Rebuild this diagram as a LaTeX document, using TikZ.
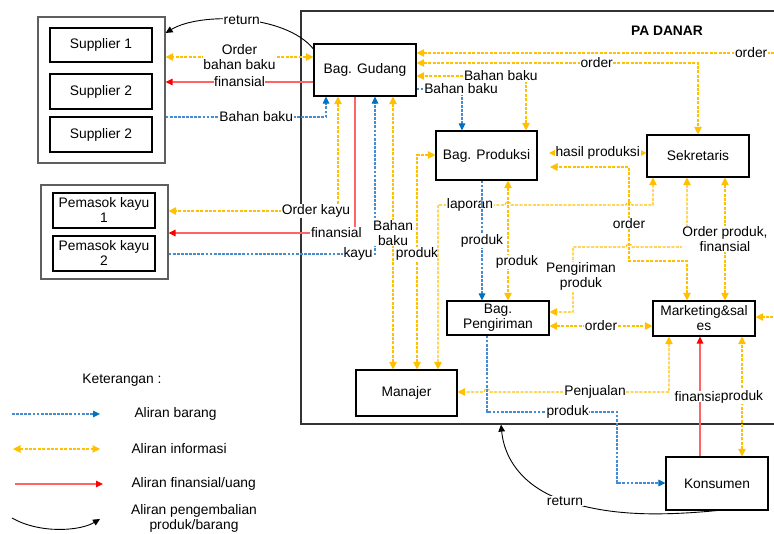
\documentclass[tikz,border=0pt]{standalone}
\usepackage{fontspec}
\setmainfont{Liberation Sans}
\usetikzlibrary{arrows.meta}
\definecolor{goodsline}{RGB}{70,140,210}
\definecolor{goodshead}{RGB}{0,112,192}
\definecolor{infoline}{RGB}{255,192,0}
\definecolor{moneyline}{RGB}{255,100,100}
\definecolor{moneyhead}{RGB}{255,0,0}
\definecolor{grpline}{RGB}{95,95,95}
\newcommand\diafont{\fontsize{13.8}{15}\selectfont}
\tikzset{
  unit/.style={draw, line width=1.1pt, minimum width=102pt, minimum height=34pt, align=center, inner sep=1pt},
  group/.style={draw=grpline, line width=1.2pt, minimum width=127pt},
  lbl/.style={fill=white, inner sep=0.6pt, align=center},
  goods/.style={draw=goodsline, line width=1.05pt, dash pattern=on 2.8pt off 1.3pt},
  info/.style={draw=infoline, line width=1.05pt, dash pattern=on 3pt off 1.4pt},
  money/.style={draw=moneyline, line width=1.3pt},
  back/.style={draw=black, line width=0.9pt},
  gtip/.tip={Triangle[length=7pt,width=6.5pt,color=goodshead]},
  itip/.tip={Triangle[length=7.5pt,width=7.5pt,color=infoline]},
  mtip/.tip={Triangle[length=7pt,width=6.5pt,color=moneyhead]},
  btip/.tip={Triangle[length=7pt,width=6.5pt,color=black]},
}

\begin{document}
\begin{tikzpicture}[x=1pt, y=-1pt, font=\diafont]
		%%%%% START %%%%%
		\useasboundingbox (0,0) rectangle (774,534);
		\clip (0,0) rectangle (774,534);
		
		% outer boxes
		\node[group, minimum height=146pt] (supgrp) at (101.5,90) {};
		\node[group, minimum height=94pt] (kayugrp) at (104.5,232) {};
		\node[draw=black!80, line width=1.2pt, minimum width=479pt, minimum height=413pt] (pa) at (540.5,217.5) {};
		\node[font=\diafont\bfseries] (title) at (667,31) {PA DANAR};
		
		% units
		\node[unit] (sup1) at (101,45) {Supplier 1};
		\node[unit, minimum height=35pt] (sup2) at (101,91.5) {Supplier 2};
		\node[unit, minimum height=35pt] (sup3) at (101,134.5) {Supplier 2};
		\node[unit, minimum height=35pt] (kayu1) at (104,210.5) {Pemasok kayu\\1};
		\node[unit, minimum height=35pt] (kayu2) at (104,253.5) {Pemasok kayu\\2};
		\node[unit, minimum height=52pt] (gudang) at (365,70) {Bag. Gudang};
		\node[unit, minimum width=101pt, minimum height=49pt] (produksi) at (486.5,155.5) {Bag. Produksi};
		\node[unit, minimum height=42pt] (sekre) at (698,156) {Sekretaris};
		\node[unit] (kirim) at (498,318) {Bag.\\Pengiriman};
		\node[unit, minimum height=35pt] (market) at (704,318.5) {Marketing\&sal\\es};
		\node[unit, minimum width=101pt, minimum height=46pt] (manajer) at (406.5,393) {Manajer};
		\node[unit, minimum height=53pt] (konsumen) at (717,483.5) {Konsumen};
		
		% gudang <-> supplier
		\draw[back,-btip] (gudang.west |- 0,49) .. controls (285,14) and (200,12) .. (supgrp.east |- 0,33) node[lbl,pos=0.5] (ret1) {return};
		\draw[info,itip-itip] (gudang.west |- 0,57) -- (supgrp.east |- 0,57) node[lbl,midway] {Order\\bahan baku};
		\draw[money,-mtip] (gudang.west |- 0,82) -- (supgrp.east |- 0,82) node[lbl,midway] {finansial};
		\draw[goods,-gtip] (supgrp.east |- 0,117) -- (326,117) node[lbl,pos=0.565] {Bahan baku} -- (gudang.south -| 326,0);
		
		% gudang <-> pemasok kayu
		\draw[info,itip-itip] (gudang.south -| 338,0) -- (338,211) -- (kayugrp.east |- 0,211) node[lbl,pos=0.13] {Order kayu};
		\draw[money,-mtip] (gudang.south -| 355,0) -- (355,233) -- (kayugrp.east |- 0,233) node[lbl,pos=0.1] {finansial};
		\draw[goods,-gtip] (kayugrp.east |- 0,254) -- (375,254) node[lbl,pos=0.918] {kayu} -- (gudang.south -| 375,0);
		
		% manajer
		\draw[info,itip-itip] (gudang.south -| 393,0) -- (manajer.north -| 393,0) node[lbl,pos=0.5] {Bahan\\baku};
		\draw[info,itip-itip] (manajer.north -| 417,0) -- (417,155) node[lbl,pos=0.54] {produk} -- (produksi.west |- 0,155);
		\draw[info,itip-itip] (manajer.north -| 438,0) -- (438,205) -- (505,205) arc (180:0:3pt) -- (626,205) arc (180:0:3pt) -- (653,205) -- (sekre.south -| 653,0);
		\node[lbl] (lap) at (470,205) {laporan};
		
		% gudang right side
		\draw[info,itip-itip] (gudang.east |- 0,53) -- (790,53) node[lbl,pos=0.896] {order} -- (790,317) -- (market.east |- 0,317);
		\draw[info,itip-itip] (gudang.east |- 0,63) -- (698,63) node[lbl,pos=0.64] {order} -- (sekre.north);
		\draw[info,itip-itip] (produksi.north -| 526,0) -- (526,76) -- (gudang.east |- 0,76) node[lbl,pos=0.23] {Bahan baku};
		\draw[goods,-gtip] (gudang.east |- 0,89) -- (462,89) node[lbl,pos=0.98] {Bahan baku} -- (produksi.north -| 462,0);
		
		% produksi
		\coordinate (hp) at (549,153);
		\coordinate (od) at (550,167);
		\draw[info,itip-itip] (hp) -- (sekre.west |- hp) node[lbl,midway] {hasil produksi};
		\draw[info,itip-itip] (market.north -| 687,0) -- (687,261) -- (629,261) -- (629,167) node[lbl,pos=0.4] {order} -- (od);
		\draw[goods,-gtip] (produksi.south -| 482,0) -- (kirim.north -| 482,0) node[lbl,pos=0.5] {produk};
		\draw[info,itip-itip] (produksi.south -| 508,0) -- (kirim.north -| 508,0) node[lbl,pos=0.68,xshift=9pt] {produk};
		
		% sekretaris
		\draw[info,itip-itip] (sekre.south -| 687,0) -- (687,247) -- (632,247) arc (0:180:3pt) -- (573,247) -- (573,312) node[lbl,pos=0.45,xshift=8pt] {Pengiriman\\produk} -- (kirim.east |- 0,312);
		\draw[info,itip-itip] (sekre.south -| 725,0) -- (market.north -| 725,0) node[lbl,midway] {Order produk,\\finansial};
		
		% marketing
		\draw[info,itip-itip] (kirim.east |- 0,326) -- (market.west |- 0,326) node[lbl,midway] {order};
		\draw[info,itip-itip] (market.south -| 669,0) -- (669,392) -- (490,392) arc (0:180:3pt) -- (manajer.east |- 0,392);
		\node[lbl] (jual) at (595,392) {Penjualan};
		\draw[goods,-gtip] (kirim.south -| 487,0) -- (487,412) -- (617,412) node[lbl,pos=0.62] {produk} -- (617,483) -- (konsumen.west |- 0,483);
		
		% konsumen
		\draw[money,-mtip] (konsumen.north -| 700,0) -- (market.south -| 700,0) node[lbl,midway] {finansial};
		\draw[info,itip-itip] (konsumen.north -| 742,0) -- (market.south -| 742,0) node[lbl,midway] {produk};
		\draw[back,-btip] (konsumen.south) .. controls (640,518) and (600,512) .. (565,501) node[lbl] (ret2) {return} .. controls (530,490) and (505,465) .. (pa.south -| 501,0);
		
		% legend
		\node (ket) at (122,380) {Keterangan :};
		\coordinate (l1a) at (12,414);  \coordinate (l1b) at (100,414);
		\coordinate (l2a) at (13,449);  \coordinate (l2b) at (100,449);
		\coordinate (l3a) at (15,484);  \coordinate (l3b) at (103,484);
		\coordinate (l4a) at (12,518);  \coordinate (l4b) at (100,519);
		\draw[goods,-gtip] (l1a) -- (l1b);
		\draw[info,itip-itip] (l2a) -- (l2b);
		\draw[money,-mtip] (l3a) -- (l3b);
		\draw[back,-btip] (l4a) .. controls (40,534) and (80,531) .. (l4b);
		\node[anchor=west] (k1) at (131,414) {Aliran barang};
		\node[anchor=west] (k2) at (128,449) {Aliran informasi};
		\node[anchor=west] (k3) at (128,484) {Aliran finansial/uang};
		\node[align=center] (k4) at (194,518.5) {Aliran pengembalian\\produk/barang};
		
		%%%%% END %%%%%
\end{tikzpicture}
\end{document}
